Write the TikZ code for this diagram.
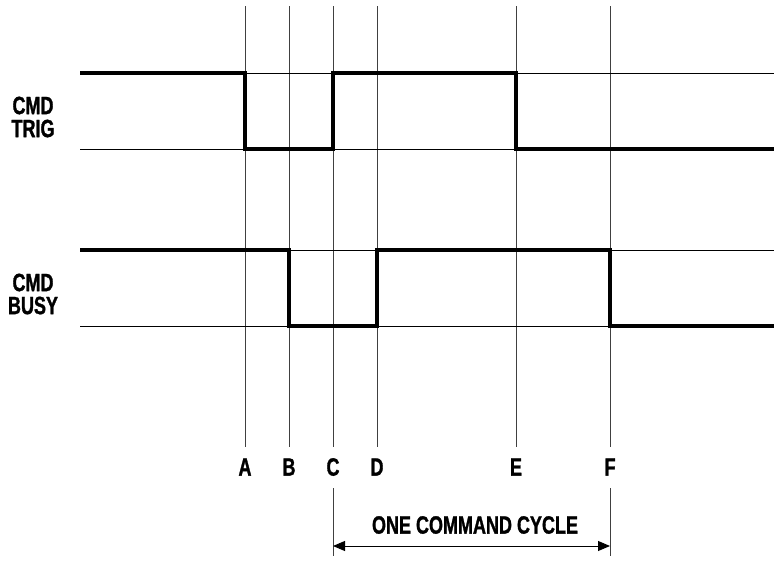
\documentclass[tikz,border=0pt]{standalone}
\usepackage{fontspec}
\setmainfont{Liberation Sans}[FakeStretch=0.72, BoldFeatures={FakeBold=1.2}]
\usetikzlibrary{arrows.meta}
\tikzset{
  grid/.style={line width=0.9pt, black!75},
  level/.style={line width=0.8pt, black},
  signal/.style={line width=4.5pt, black, line join=miter},
  siglabel/.style={font=\fontsize{25}{23}\selectfont\bfseries, align=center, inner sep=0pt},
  ticklabel/.style={font=\fontsize{25}{23}\selectfont\bfseries, inner sep=0pt},
  span/.style={{Triangle[length=12pt,width=10pt]}-{Triangle[length=12pt,width=10pt]}, line width=0.9pt},
}
\begin{document}
\begin{tikzpicture}[x=1pt, y=-1pt]
  \useasboundingbox (0,0) rectangle (774,562);
  % event lines
  \foreach \name/\xx in {A/245, B/289, C/333, D/377, E/516, F/610} {
    \draw[grid] (\xx,6) -- (\xx,447);
    \node[ticklabel] (t\name) at (\xx,467) {\name};
  }
  % logic levels
  \foreach \yy in {73, 149, 250, 326}
    \draw[level] (80,\yy) -- (774,\yy);
  % signals
  \draw[signal] (80,73) -- (245,73) -- (245,149) -- (333,149) -- (333,73)
    -- (516,73) -- (516,149) -- (774,149);
  \draw[signal] (80,250) -- (289,250) -- (289,326) -- (377,326) -- (377,250)
    -- (610,250) -- (610,326) -- (774,326);
  \node[siglabel] (trig) at (33,117) {CMD\\TRIG};
  \node[siglabel] (busy) at (33,294) {CMD\\BUSY};
  % command cycle
  \coordinate (cs) at (333,546);
  \coordinate (ce) at (610,546);
  \draw[grid] (333,488) -- (333,556);
  \draw[grid] (610,488) -- (610,556);
  \draw[span] (cs) -- (ce);
  \node[ticklabel] (cycle) at (475,525) {ONE COMMAND CYCLE};
\end{tikzpicture}
\end{document}
